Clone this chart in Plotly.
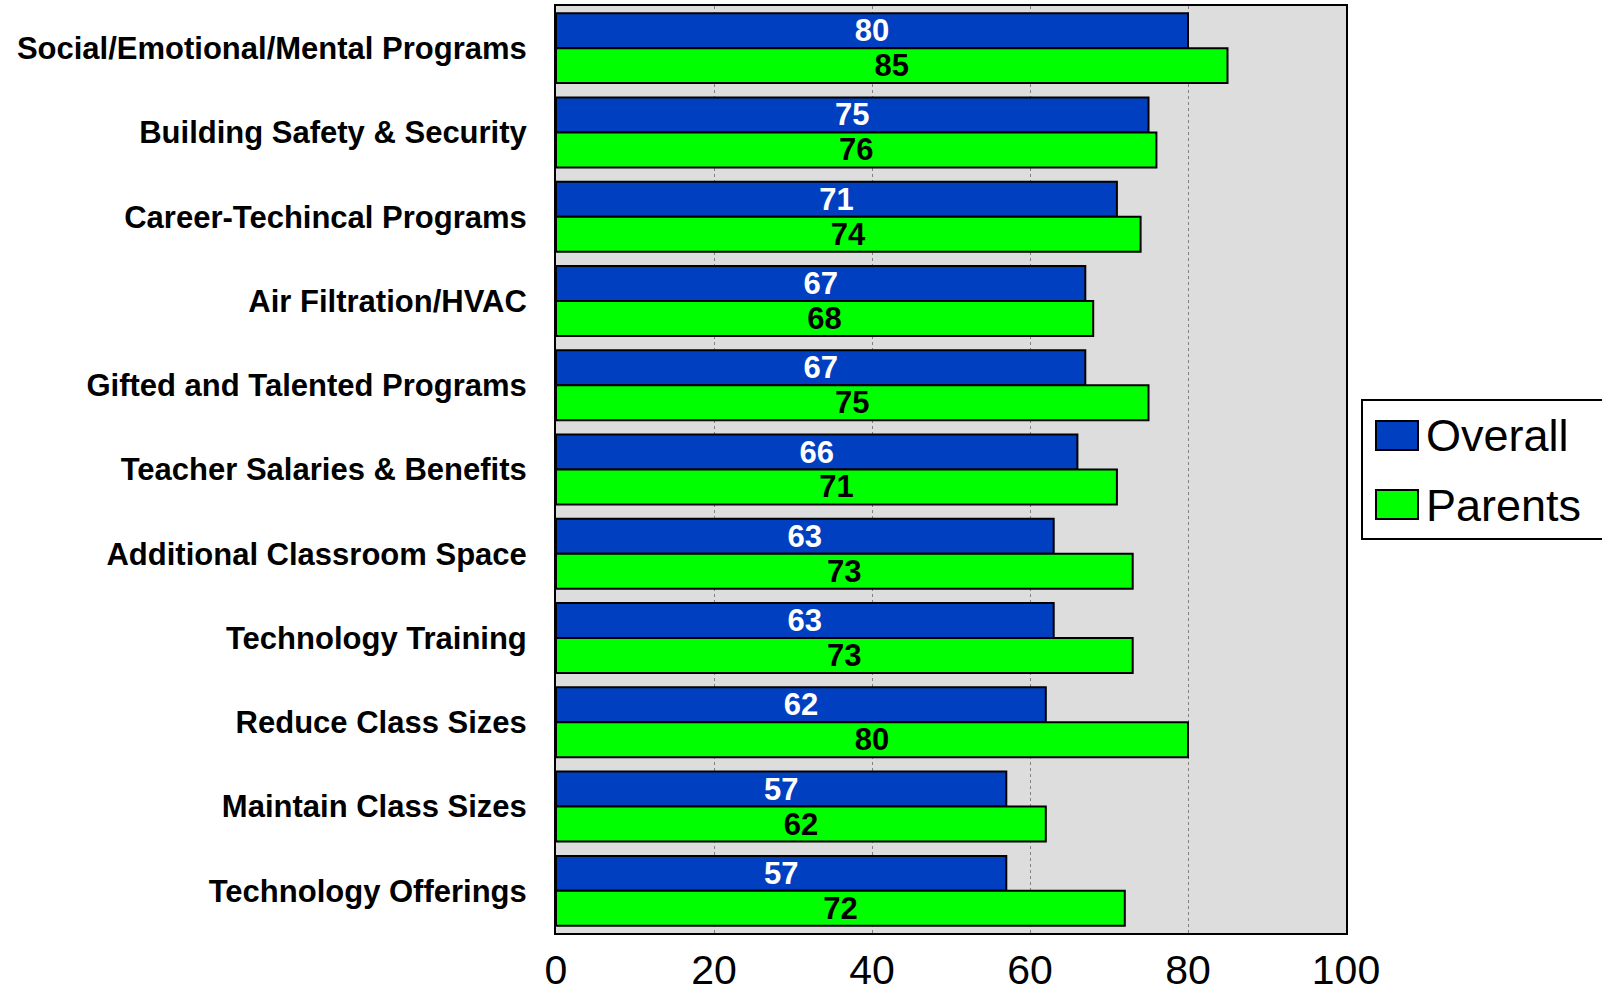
import plotly.graph_objects as go

# survey data (top to bottom)
categories = [
    "Social/Emotional/Mental Programs",
    "Building Safety & Security",
    "Career-Techincal Programs",
    "Air Filtration/HVAC",
    "Gifted and Talented Programs",
    "Teacher Salaries & Benefits",
    "Additional Classroom Space",
    "Technology Training",
    "Reduce Class Sizes",
    "Maintain Class Sizes",
    "Technology Offerings",
]
overall = [80, 75, 71, 67, 67, 66, 63, 63, 62, 57, 57]
parents = [85, 76, 74, 68, 75, 71, 73, 73, 80, 62, 72]
x_ticks = [0, 20, 40, 60, 80, 100]

BLUE = "rgb(0,64,192)"
GREEN = "rgb(0,255,0)"
FONT = "Liberation Sans, Arial, sans-serif"

W, H = 1602, 993
L, R, T, B = 556, 256, 6, 60
pw, ph = W - L - R, H - T - B


def px(x):
    # page pixel -> paper x
    return (x - L) / pw


def py(y):
    # page pixel -> paper y
    return (H - B - y) / ph


fig = go.Figure()
fig.add_trace(go.Bar(
    y=categories, x=overall, name="Overall", orientation="h",
    marker=dict(color=BLUE, line=dict(color="black", width=2)),
    text=overall, textposition="inside", insidetextanchor="middle", textangle=0,
    textfont=dict(family=FONT, size=31, color="white", weight="bold"),
    showlegend=False,
))
fig.add_trace(go.Bar(
    y=categories, x=parents, name="Parents", orientation="h",
    marker=dict(color=GREEN, line=dict(color="black", width=2)),
    text=parents, textposition="inside", insidetextanchor="middle", textangle=0,
    textfont=dict(family=FONT, size=31, color="black", weight="bold"),
    showlegend=False,
))

fig.update_layout(
    width=W, height=H,
    margin=dict(l=L, r=R, t=T, b=B, autoexpand=False),
    barmode="group", bargap=0.17, bargroupgap=0,
    plot_bgcolor="rgb(221,221,221)", paper_bgcolor="white",
    uniformtext=dict(mode="show", minsize=31),
    font=dict(family=FONT, color="black"),
)
fig.update_xaxes(
    range=[0, 100], tickvals=x_ticks, showgrid=True,
    gridcolor="rgb(130,130,130)", gridwidth=1, griddash="dot",
    showline=True, linecolor="black", linewidth=2, mirror=True,
    zeroline=False, ticks="", ticklabelstandoff=0,
    tickfont=dict(family=FONT, size=41, color="black"),
)
fig.update_yaxes(
    autorange="reversed", showgrid=False,
    showline=True, linecolor="black", linewidth=2, mirror=True,
    ticks="", ticklabelstandoff=21,
    tickfont=dict(family=FONT, size=31, color="black", weight="bold"),
)

# legend drawn by hand so the swatches match the original size
fig.add_shape(type="rect", xref="paper", yref="paper",
              x0=px(1362), x1=px(1625), y0=py(539), y1=py(400),
              line=dict(color="black", width=2), fillcolor="white")
for name, color, top in [("Overall", BLUE, 421), ("Parents", GREEN, 490)]:
    fig.add_shape(type="rect", xref="paper", yref="paper",
                  x0=px(1376), x1=px(1418), y0=py(top + 29), y1=py(top),
                  line=dict(color="black", width=2), fillcolor=color)
    fig.add_annotation(xref="paper", yref="paper", x=px(1424), y=py(top + 15),
                       text=name, showarrow=False, xanchor="left", yanchor="middle",
                       font=dict(family=FONT, size=45, color="black"))

# drop the default body margin so the figure fills the window exactly
fig.write_html("out.html", config={"displayModeBar": False},
               post_script="document.body.style.margin='0';document.body.style.overflow='hidden';")
